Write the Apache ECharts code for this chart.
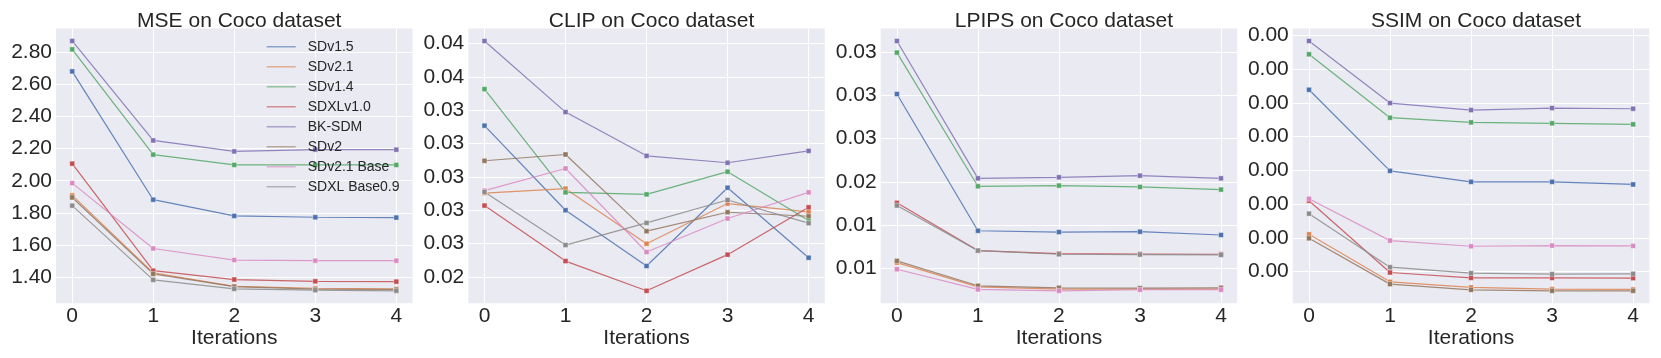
<!DOCTYPE html>
<html>
<head>
<meta charset="utf-8">
<script src="https://cdn.jsdelivr.net/npm/echarts@6/dist/echarts.min.js"></script>
<style>
  html, body { margin: 0; padding: 0; background: #ffffff; }
  #chart { width: 1661px; height: 358px; }
</style>
</head>
<body>
<div id="chart"></div>
<script>
// ---------- data ----------
const iterations = [0, 1, 2, 3, 4];
const models = ['SDv1.5', 'SDv2.1', 'SDv1.4', 'SDXLv1.0', 'BK-SDM', 'SDv2', 'SDv2.1 Base', 'SDXL Base0.9'];
const colors = ['#4C72B0', '#DD8452', '#55A868', '#C44E52', '#8172B3', '#937860', '#DA8BC3', '#8C8C8C'];
const titles = ['MSE on Coco dataset', 'CLIP on Coco dataset', 'LPIPS on Coco dataset', 'SSIM on Coco dataset'];

// rows follow the order of `models`
const mseValues = [
  [2.679, 1.882, 1.781, 1.773, 1.771],
  [1.909, 1.427, 1.344, 1.332, 1.328],
  [2.816, 2.162, 2.098, 2.098, 2.098],
  [2.106, 1.441, 1.386, 1.375, 1.373],
  [2.868, 2.250, 2.182, 2.193, 2.193],
  [1.896, 1.421, 1.342, 1.326, 1.324],
  [1.985, 1.579, 1.507, 1.503, 1.503],
  [1.845, 1.384, 1.328, 1.320, 1.316]
];
const clipValues = [
  [0.03134, 0.02500, 0.02082, 0.02669, 0.02144],
  [0.02629, 0.02662, 0.02249, 0.02550, 0.02488],
  [0.03408, 0.02634, 0.02619, 0.02789, 0.02423],
  [0.02535, 0.02119, 0.01896, 0.02167, 0.02522],
  [0.03769, 0.03236, 0.02908, 0.02856, 0.02945],
  [0.02871, 0.02918, 0.02343, 0.02485, 0.02455],
  [0.02647, 0.02813, 0.02187, 0.02438, 0.02634],
  [0.02637, 0.02239, 0.02405, 0.02577, 0.02403]
];
const lpipsValues = [
  [0.03014, 0.01436, 0.01421, 0.01425, 0.01387],
  [0.01069, 0.00789, 0.00763, 0.00763, 0.00763],
  [0.03492, 0.01949, 0.01957, 0.01942, 0.01911],
  [0.01758, 0.01207, 0.01172, 0.01168, 0.01165],
  [0.03626, 0.02041, 0.02053, 0.02072, 0.02041],
  [0.01088, 0.00801, 0.00778, 0.00774, 0.00778],
  [0.00992, 0.00759, 0.00743, 0.00755, 0.00755],
  [0.01727, 0.01207, 0.01165, 0.01161, 0.01157]
];
const ssimValues = [
  [0.003693, 0.002492, 0.002329, 0.002329, 0.002290],
  [0.001551, 0.000847, 0.000764, 0.000739, 0.000734],
  [0.004219, 0.003279, 0.003210, 0.003196, 0.003181],
  [0.002049, 0.000985, 0.000906, 0.000906, 0.000902],
  [0.004416, 0.003496, 0.003392, 0.003422, 0.003412],
  [0.001492, 0.000813, 0.000729, 0.000714, 0.000714],
  [0.002078, 0.001458, 0.001374, 0.001384, 0.001379],
  [0.001857, 0.001064, 0.000975, 0.000961, 0.000966]
];

// y tick positions and the (rounded) labels shown at them
const mseTicks = [1.4, 1.6, 1.8, 2.0, 2.2, 2.4, 2.6, 2.8];
const mseTickLabels = ['1.40', '1.60', '1.80', '2.00', '2.20', '2.40', '2.60', '2.80'];
const clipTicks = [0.02, 0.0225, 0.025, 0.0275, 0.03, 0.0325, 0.035, 0.0375];
const clipTickLabels = ['0.02', '0.03', '0.03', '0.03', '0.03', '0.03', '0.04', '0.04'];
const lpipsTicks = [0.01, 0.015, 0.02, 0.025, 0.03, 0.035];
const lpipsTickLabels = ['0.01', '0.01', '0.02', '0.03', '0.03', '0.03'];
const ssimTicks = [0.001, 0.0015, 0.002, 0.0025, 0.003, 0.0035, 0.004, 0.0045];
const ssimTickLabels = ['0.00', '0.00', '0.00', '0.00', '0.00', '0.00', '0.00', '0.00'];
const xTickLabels = ['0', '1', '2', '3', '4'];

// ---------- build ----------
const panels = [
  { values: mseValues, ticks: mseTicks, labels: mseTickLabels },
  { values: clipValues, ticks: clipTicks, labels: clipTickLabels },
  { values: lpipsValues, ticks: lpipsTicks, labels: lpipsTickLabels },
  { values: ssimValues, ticks: ssimTicks, labels: ssimTickLabels }
];

const FONT = 'Liberation Sans, Arial, sans-serif';
const TEXT = '#262626';
const gridLefts = [56, 468.3, 880.7, 1292.8];
const gridTop = 28.5, gridW = 356.5, gridH = 274.8;

const grids = [], xAxes = [], yAxes = [], titleList = [], series = [];

panels.forEach((p, g) => {
  const all = p.values.flat();
  const lo = Math.min(...all), hi = Math.max(...all);
  const pad = (hi - lo) * 0.05;
  grids.push({
    left: gridLefts[g], top: gridTop, width: gridW, height: gridH,
    show: true, backgroundColor: '#EAEAF2', borderWidth: 0, containLabel: false
  });
  titleList.push({
    text: titles[g],
    left: gridLefts[g] + gridW / 2, top: 6, textAlign: 'center',
    textStyle: { fontFamily: FONT, fontSize: 21, fontWeight: 'normal', color: TEXT }
  });
  xAxes.push({
    type: 'value', gridIndex: g, min: -0.2, max: 4.2,
    name: 'Iterations', nameLocation: 'middle', nameGap: 24, nameMoveOverlap: false,
    nameTextStyle: { fontFamily: FONT, fontSize: 21, color: TEXT },
    axisLine: { show: false },
    axisTick: { show: false, customValues: iterations },
    axisLabel: {
      customValues: iterations, margin: 2,
      fontFamily: FONT, fontSize: 21, color: TEXT,
      formatter: v => xTickLabels[iterations.indexOf(Math.round(v))]
    },
    splitLine: { show: true, lineStyle: { color: '#ffffff', width: 1 } }
  });
  yAxes.push({
    type: 'value', gridIndex: g, min: lo - pad, max: hi + pad,
    axisLine: { show: false },
    axisTick: { show: false, customValues: p.ticks },
    axisLabel: {
      customValues: p.ticks, margin: 4,
      fontFamily: FONT, fontSize: 21, color: TEXT,
      formatter: v => {
        const i = p.ticks.findIndex(t => Math.abs(t - v) < 1e-9);
        return i >= 0 ? p.labels[i] : '';
      }
    },
    splitLine: { show: true, lineStyle: { color: '#ffffff', width: 1 } }
  });
  models.forEach((m, i) => {
    series.push({
      type: 'line', name: m, xAxisIndex: g, yAxisIndex: g,
      data: iterations.map((x, k) => [x, p.values[i][k]]),
      color: colors[i],
      symbol: 'rect', symbolSize: 5, showSymbol: true,
      lineStyle: { width: 1.2, opacity: 0.85, color: colors[i] },
      itemStyle: { color: colors[i], borderColor: '#ffffff', borderWidth: 0.4 },
      emphasis: { disabled: true },
      silent: true
    });
  });
});

const legendIcon = 'path://M0,0 L0.01,0 L0,0.01 Z M36,14 L35.99,14 L36,13.99 Z M0,6.3 L29,6.3 L29,7.7 L0,7.7 Z';

const option = {
  animation: false,
  color: colors,
  title: titleList,
  grid: grids,
  xAxis: xAxes,
  yAxis: yAxes,
  legend: {
    data: models,
    orient: 'vertical',
    left: 266.7, top: 39.7,
    padding: 0, itemWidth: 36, itemHeight: 14, itemGap: 6,
    icon: legendIcon,
    itemStyle: { opacity: 0.6, borderWidth: 0, borderColor: 'transparent' },
    selectedMode: false,
    textStyle: { fontFamily: FONT, fontSize: 14, color: TEXT }
  },
  series: series
};

const chart = echarts.init(document.getElementById('chart'), null, { renderer: 'canvas' });
chart.setOption(option);
</script>
</body>
</html>
